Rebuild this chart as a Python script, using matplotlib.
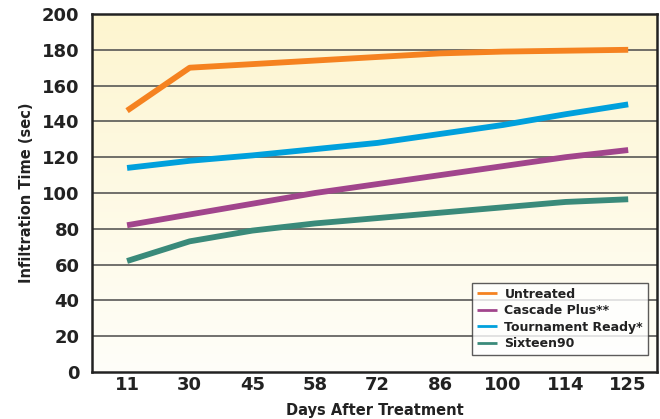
import numpy as np
import matplotlib
matplotlib.use("Agg")
import matplotlib.pyplot as plt
from matplotlib.colors import LinearSegmentedColormap

# ── Data ──────────────────────────────────────────────────────────────────────
days = ["11", "30", "45", "58", "72", "86", "100", "114", "125"]
untreated = [146, 170, 172, 174, 176, 178, 179, 179.5, 180]
cascade_plus = [82, 88, 94, 100, 105, 110, 115, 120, 124]
tournament_ready = [114, 118, 121, 124.5, 128, 133, 138, 144, 149.5]
sixteen90 = [62, 73, 79, 83, 86, 89, 92, 95, 96.5]

series = [
    ("Untreated", untreated, "#f58220"),
    ("Cascade Plus**", cascade_plus, "#a1458c"),
    ("Tournament Ready*", tournament_ready, "#00a0dc"),
    ("Sixteen90", sixteen90, "#3a8a7a"),
]

# ── Plot ──────────────────────────────────────────────────────────────────────
fig = plt.figure(figsize=(6.6, 4.19), dpi=100)
ax = fig.add_axes([92 / 660, 1 - 372 / 419, (657 - 92) / 660, (372 - 14) / 419])

x = np.arange(len(days))
xlim = (-0.56, len(days) - 1 + 0.46)
ylim = (0, 200)

# pale yellow gradient background
cmap = LinearSegmentedColormap.from_list("bg", ["#fffef9", "#fdf5cf"])
grad = np.linspace(0, 1, 256).reshape(-1, 1)
ax.imshow(grad, cmap=cmap, origin="lower", aspect="auto",
          extent=(xlim[0], xlim[1], ylim[0], ylim[1]), zorder=0)

for val in range(20, 200, 20):
    ax.axhline(val, color="#4a4a4a", linewidth=1.1, zorder=1)

for label, vals, color in series:
    ax.plot(x, vals, color=color, linewidth=4.2, label=label,
            solid_joinstyle="round", solid_capstyle="butt", zorder=3)

ax.set_xlim(*xlim)
ax.set_ylim(*ylim)
ax.set_xticks(x)
ax.set_xticklabels(days)
ax.set_yticks(range(0, 201, 20))
ax.tick_params(axis="x", length=0, pad=3, labelsize=13)
ax.tick_params(axis="y", length=0, pad=9, labelsize=13)
for lbl in ax.get_xticklabels() + ax.get_yticklabels():
    lbl.set_fontweight("heavy")
    lbl.set_color("#222222")

for sp in ax.spines.values():
    sp.set_linewidth(1.8)
    sp.set_color("#222222")

ax.set_xlabel("Days After Treatment", fontsize=10.5, fontweight="bold",
              color="#222222", labelpad=6)
ax.set_ylabel("Infiltration Time (sec)", fontsize=10.5, fontweight="bold",
              color="#222222", labelpad=6)

leg = ax.legend(loc="lower left", bbox_to_anchor=((472 - 92) / 565, (372 - 355) / 358),
                fontsize=9, frameon=True, fancybox=False, handlelength=1.6,
                borderpad=0.4, labelspacing=0.28, handletextpad=0.6,
                borderaxespad=0)
leg.get_frame().set_edgecolor("#333333")
leg.get_frame().set_linewidth(1.0)
leg.get_frame().set_facecolor("white")
for line in leg.get_lines():
    line.set_linewidth(2)
for t in leg.get_texts():
    t.set_fontweight("bold")
    t.set_color("#222222")

fig.savefig("out.png", dpi=100)
